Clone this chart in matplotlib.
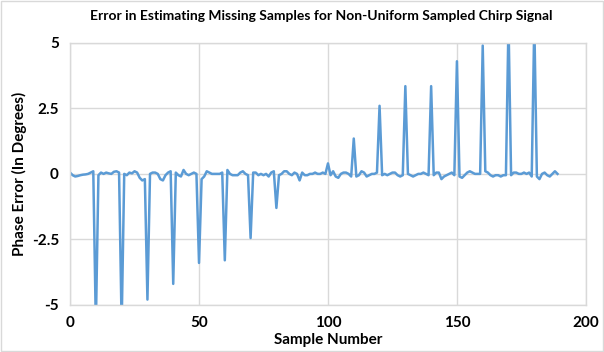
import matplotlib.pyplot as plt
from matplotlib.patches import Rectangle

# phase error per sample (spikes beyond +-5 are clipped by the axis)
error = [
    0.05, -0.05, -0.1, -0.08, -0.05, -0.03, -0.02, 0.0, 0.05, 0.1,
    -5.8, -0.05, 0.05, 0.0, 0.05, 0.02, 0.0, 0.08, 0.1, 0.05,
    -5.8, 0.0, -0.05, 0.05, 0.02, 0.1, 0.05, -0.15, -0.25, -0.2,
    -4.8, 0.0, 0.05, 0.05, 0.0, -0.2, -0.25, -0.05, 0.05, 0.1,
    -4.2, 0.05, -0.05, -0.1, 0.15, 0.0, -0.05, 0.0, 0.05, 0.0,
    -3.4, -0.2, -0.1, 0.1, 0.05, 0.0, 0.0, 0.0, 0.0, 0.05,
    -3.3, 0.15, 0.0, -0.05, -0.05, -0.05, 0.05, 0.1, 0.0, -0.05,
    -2.45, 0.05, 0.05, -0.05, 0.0, -0.05, 0.0, -0.1, 0.05, 0.1,
    -1.3, -0.05, 0.0, 0.1, 0.1, 0.0, -0.05, 0.05, 0.0, -0.25,
    0.05, -0.05, -0.05, 0.0, 0.0, 0.05, 0.0, 0.0, 0.05, 0.0,
    0.4, -0.05, 0.1, -0.1, -0.15, 0.0, 0.05, 0.05, 0.0, -0.1,
    1.35, -0.1, -0.05, 0.1, 0.05, -0.1, -0.05, 0.0, 0.0, 0.05,
    2.6, -0.05, 0.0, -0.05, 0.0, 0.05, 0.05, -0.05, -0.1, -0.05,
    3.35, 0.0, -0.05, -0.1, -0.05, 0.0, 0.0, 0.05, 0.0, -0.05,
    3.35, -0.05, 0.05, 0.05, -0.2, -0.1, -0.05, 0.0, 0.05, -0.05,
    4.3, -0.1, -0.15, -0.05, 0.05, 0.1, 0.05, 0.0, 0.0, 0.0,
    4.9, 0.1, 0.05, -0.05, -0.1, -0.05, -0.05, -0.1, -0.05, -0.05,
    5.8, -0.05, 0.05, 0.05, 0.0, 0.0, 0.05, 0.0, 0.05, -0.1,
    5.8, -0.1, -0.2, 0.0, 0.05, -0.05, -0.1, 0.0, 0.1, 0.0,
]
samples = list(range(len(error)))

x_ticks = [0, 50, 100, 150, 200]
y_ticks = [-5, -2.5, 0, 2.5, 5]
y_labels = ['-5', '-2.5', '0', '2.5', '5']

plt.rcParams['font.family'] = ['Lato', 'DejaVu Sans']
plt.rcParams['font.weight'] = 'bold'

fig = plt.figure(figsize=(6.04, 3.52), dpi=100)
ax = fig.add_axes([0.116, 0.134, 0.854, 0.744])

ax.plot(samples, error, color='#5b9bd5', linewidth=1.8)
ax.set_xlim(0, 200)
ax.set_ylim(-5, 5)
ax.set_xticks(x_ticks)
ax.set_yticks(y_ticks)
ax.set_yticklabels(y_labels)
ax.grid(True, color='#d9d9d9', linewidth=1)
ax.set_axisbelow(True)
for s in ax.spines.values():
    s.set_color('#d9d9d9')
    s.set_linewidth(1)
ax.tick_params(length=0, labelsize=11, pad=8)
for lab in ax.get_xticklabels() + ax.get_yticklabels():
    lab.set_fontweight('bold')

ax.set_xlabel('Sample Number', fontsize=11, fontweight='bold', labelpad=2)
ax.set_ylabel('Phase Error (In Degrees)', fontsize=11, fontweight='bold')
ax.yaxis.set_label_coords(-0.083, 0.5)
fig.text(0.532, 0.955, 'Error in Estimating Missing Samples for Non-Uniform Sampled Chirp Signal',
         ha='center', va='center', fontsize=10, fontweight='bold')

# light frame around the whole chart
fig.patches.append(Rectangle((0.002, 0.003), 0.996, 0.994, transform=fig.transFigure,
                             fill=False, edgecolor='#d9d9d9', linewidth=1))

plt.savefig('out.png', dpi=100)
